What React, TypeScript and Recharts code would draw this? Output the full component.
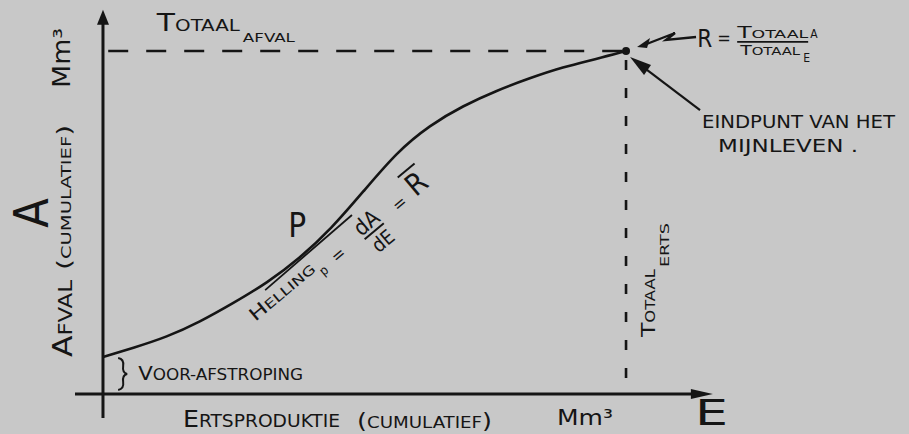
import React from 'react';
import { LineChart, Line, XAxis, YAxis, ReferenceLine, ReferenceDot } from 'recharts';

// cumulatieve ertsproductie (E) en cumulatief afval (A), eindpunt = 100
const ertsCum = [0, 5.7, 12.2, 18.5, 24.9, 31.4, 37.7, 43.6, 49.7, 56.2, 62.5, 68.8, 75.3, 81.6, 87.9, 94.4, 100];
const afvalCum = [10.8, 13.4, 16.6, 21.0, 26.5, 32.4, 39.7, 48.1, 58.9, 70.6, 78.4, 84.0, 88.5, 92.1, 95.3, 97.7, 100];

const totaalErts = 100;
const totaalAfval = 100;

// raaklijn in punt P
const raaklijnE = [31.0, 47.6];
const raaklijnA = [30.3, 52.2];

const data = ertsCum.map((e, i) => ({ e, a: afvalCum[i] }));

const INK = '#151515';
const PAPER = '#c8c8c8';
const FONT = '"DejaVu Sans Condensed", "DejaVu Sans", sans-serif';
const FIT = 'spacingAndGlyphs';

const ArrowLine = (head: number, half: number) => (props: any) => {
  const { x1, y1, x2, y2 } = props;
  const len = Math.hypot(x2 - x1, y2 - y1) || 1;
  const ux = (x2 - x1) / len;
  const uy = (y2 - y1) / len;
  const bx = x2 - ux * head;
  const by = y2 - uy * head;
  return (
    <g>
      <line x1={x1} y1={y1} x2={bx + ux * 3} y2={by + uy * 3} stroke={INK} strokeWidth={3} />
      <polygon
        points={`${x2},${y2} ${bx - uy * half},${by + ux * half} ${bx + uy * half},${by - ux * half}`}
        fill={INK}
      />
    </g>
  );
};

const note = (render: () => React.ReactNode, rotate = 0) => (props: any) => (
  <g
    transform={`translate(${props.cx},${props.cy}) rotate(${rotate})`}
    fill={INK}
    fontFamily={FONT}
  >
    {render()}
  </g>
);

const TotaalAfvalNote = note(() => (
  <>
    <text x={0} y={0} textLength={83} lengthAdjust={FIT}>
      <tspan fontSize={24}>T</tspan>
      <tspan fontSize={16}>OTAAL</tspan>
    </text>
    <text x={86} y={11} fontSize={13} textLength={52} lengthAdjust={FIT}>AFVAL</text>
  </>
));

const FormuleNote = note(() => (
  <>
    <text x={0} y={0} fontSize={24}>R</text>
    <text x={20} y={-3} fontSize={18}>=</text>
    <text x={40} y={-9} textLength={71} lengthAdjust={FIT}>
      <tspan fontSize={15}>T</tspan>
      <tspan fontSize={11}>OTAAL</tspan>
    </text>
    <text x={113} y={-9} fontSize={12}>A</text>
    <line x1={40} x2={111} y1={-5} y2={-5} stroke={INK} strokeWidth={1.6} />
    <text x={43} y={8} textLength={60} lengthAdjust={FIT}>
      <tspan fontSize={14}>T</tspan>
      <tspan fontSize={11}>OTAAL</tspan>
    </text>
    <text x={106} y={15} fontSize={12}>E</text>
  </>
));

const EindpuntNote = note(() => (
  <>
    <circle cx={0} cy={0} r={4} fill={INK} />
    {/* bliksempijl van R naar het eindpunt */}
    <polyline points="70,-14 40,-11 49,-18 18,-6" fill="none" stroke={INK} strokeWidth={2.4} />
    <polygon points="11,-4 24,-13 21,-3" fill={INK} />
    {/* pijl van de tekst naar het eindpunt */}
    <line x1={74} y1={59} x2={16} y2={15} stroke={INK} strokeWidth={2.2} />
    <polygon points="4,6 25,14 18,24" fill={INK} />
    <text x={76} y={77} fontSize={17} textLength={193} lengthAdjust={FIT}>EINDPUNT VAN HET</text>
    <text x={92} y={101} fontSize={17} textLength={140} lengthAdjust={FIT}>MIJNLEVEN .</text>
  </>
));

const TotaalErtsNote = note(() => (
  <>
    <text x={0} y={0} textLength={68} lengthAdjust={FIT}>
      <tspan fontSize={20}>T</tspan>
      <tspan fontSize={14}>OTAAL</tspan>
    </text>
    <text x={70} y={14} fontSize={12} textLength={44} lengthAdjust={FIT}>ERTS</text>
  </>
), -90);

const GroteA = note(() => (
  <text x={0} y={0} fontSize={48} textAnchor="middle">A</text>
), -90);

const YLabel = note(() => (
  <>
    <text x={0} y={0} textLength={77} lengthAdjust={FIT}>
      <tspan fontSize={26}>A</tspan>
      <tspan fontSize={19}>FVAL</tspan>
    </text>
    <text x={87} y={-1} textLength={145} lengthAdjust={FIT}>
      <tspan fontSize={20}>(</tspan>
      <tspan fontSize={14}>CUMULATIEF</tspan>
      <tspan fontSize={20}>)</tspan>
    </text>
    <text x={269} y={-2} fontSize={24} textLength={60} lengthAdjust={FIT}>Mm³</text>
  </>
), -90);

const XLabel = note(() => (
  <>
    <text x={0} y={0} textLength={157} lengthAdjust={FIT}>
      <tspan fontSize={23}>E</tspan>
      <tspan fontSize={17}>RTSPRODUKTIE</tspan>
    </text>
    <text x={174} y={1} textLength={135} lengthAdjust={FIT}>
      <tspan fontSize={21}>(</tspan>
      <tspan fontSize={15}>CUMULATIEF</tspan>
      <tspan fontSize={21}>)</tspan>
    </text>
    <text x={374} y={-2} fontSize={22} textLength={56} lengthAdjust={FIT}>Mm³</text>
  </>
));

const GroteE = note(() => (
  <text x={0} y={0} fontSize={35} textLength={33} lengthAdjust={FIT}>E</text>
));

const VoorAfstroping = note(() => (
  <>
    <path
      d="M0,-22 Q6,-21 5,-14 Q4,-7 9,-6 Q4,-5 5,2 Q6,9 0,10"
      fill="none"
      stroke={INK}
      strokeWidth={2}
    />
    <text x={20} y={0} textLength={165} lengthAdjust={FIT}>
      <tspan fontSize={19}>V</tspan>
      <tspan fontSize={15}>OOR-AFSTROPING</tspan>
    </text>
  </>
));

const PNote = note(() => (
  <text x={0} y={0} fontSize={33}>P</text>
));

const HellingNote = note(() => (
  <>
    <text x={0} y={0} textLength={80} lengthAdjust={FIT}>
      <tspan fontSize={18}>H</tspan>
      <tspan fontSize={13}>ELLING</tspan>
    </text>
    <text x={82} y={9} fontSize={13}>p</text>
    <text x={100} y={8} fontSize={18}>=</text>
    <text x={149} y={3} fontSize={22} textAnchor="middle">dA</text>
    <line x1={137} x2={162} y1={7} y2={7} stroke={INK} strokeWidth={2} />
    <text x={150} y={27} fontSize={20} textAnchor="middle">dE</text>
    <text x={180} y={8} fontSize={18}>=</text>
    <text x={203} y={8} fontSize={30}>R</text>
    <line x1={202} x2={224} y1={-19} y2={-19} stroke={INK} strokeWidth={2} />
  </>
), -40);

export default function App() {
  return (
    <div style={{ position: 'absolute', left: 0, top: 0, width: 909, height: 434, background: PAPER }}>
      <LineChart width={909} height={434} data={data} margin={{ top: 0, right: 0, bottom: 0, left: 0 }}>
        <XAxis type="number" dataKey="e" domain={[-19.69, 154.1]} allowDataOverflow hide />
        <YAxis type="number" domain={[-11.66, 114.87]} allowDataOverflow hide />

        {/* assen */}
        <ReferenceLine segment={[{ x: -5.35, y: 0 }, { x: 116.6, y: 0 }]} shape={ArrowLine(22, 5)} ifOverflow="visible" />
        <ReferenceLine segment={[{ x: 0, y: -7 }, { x: 0, y: 112 }]} shape={ArrowLine(15, 6)} ifOverflow="visible" />

        {/* totalen */}
        <ReferenceLine
          segment={[{ x: 1, y: totaalAfval }, { x: totaalErts, y: totaalAfval }]}
          stroke={INK}
          strokeWidth={2.6}
          strokeDasharray="20 18"
        />
        <ReferenceLine
          segment={[{ x: totaalErts, y: 97.4 }, { x: totaalErts, y: 0.6 }]}
          stroke={INK}
          strokeWidth={2.6}
          strokeDasharray="10 18"
        />

        {/* raaklijn in P */}
        <ReferenceLine
          segment={[{ x: raaklijnE[0], y: raaklijnA[0] }, { x: raaklijnE[1], y: raaklijnA[1] }]}
          stroke={INK}
          strokeWidth={1.8}
        />

        <Line
          type="basis"
          dataKey="a"
          stroke={INK}
          strokeWidth={2.6}
          dot={false}
          activeDot={false}
          isAnimationActive={false}
        />

        <ReferenceDot x={totaalErts} y={totaalAfval} shape={EindpuntNote} ifOverflow="visible" />
        <ReferenceDot x={10.3} y={105.8} shape={TotaalAfvalNote} ifOverflow="visible" />
        <ReferenceDot x={113.6} y={101.2} shape={FormuleNote} ifOverflow="visible" />
        <ReferenceDot x={105.5} y={16.6} shape={TotaalErtsNote} ifOverflow="visible" />
        <ReferenceDot x={-10.5} y={52.8} shape={GroteA} ifOverflow="visible" />
        <ReferenceDot x={-5.9} y={10.8} shape={YLabel} ifOverflow="visible" />
        <ReferenceDot x={15.3} y={-9.6} shape={XLabel} ifOverflow="visible" />
        <ReferenceDot x={113.2} y={-9.0} shape={GroteE} ifOverflow="visible" />
        <ReferenceDot x={2.9} y={4.1} shape={VoorAfstroping} ifOverflow="visible" />
        <ReferenceDot x={35.4} y={45.8} shape={PNote} ifOverflow="visible" />
        <ReferenceDot x={29.1} y={21.0} shape={HellingNote} ifOverflow="visible" />
      </LineChart>
    </div>
  );
}
